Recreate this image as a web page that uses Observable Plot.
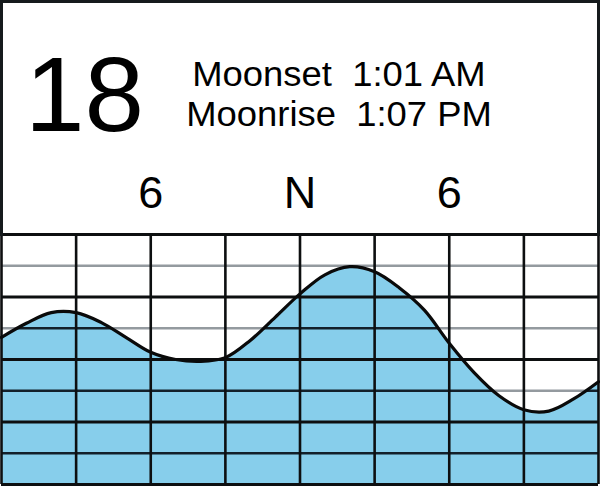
<!DOCTYPE html>
<html>
<head>
<meta charset="utf-8">
<script src="https://cdn.jsdelivr.net/npm/d3@7"></script>
<script src="https://cdn.jsdelivr.net/npm/@observablehq/plot@0.6"></script>
<style>
  html, body { margin: 0; padding: 0; background: #fff; }
  #wrap { position: relative; width: 600px; height: 491px; overflow: hidden; font-family: "Liberation Sans", Arial, Helvetica, sans-serif; color: #000; }
  #wrap svg { display: block; }
  #box { position: absolute; left: 0; top: 0; width: 600px; height: 236px; box-sizing: border-box;
         border: 3px solid #151a1c; border-bottom: none; pointer-events: none; }
  #day { position: absolute; left: 25px; top: 41px; font-size: 106px; line-height: 1; transform: scaleX(1.01); transform-origin: 0 0; }
  #moon { position: absolute; left: 139px; width: 400px; top: 54px; font-size: 35px; line-height: 40px; text-align: center;
          white-space: pre; transform: scaleX(1.04); transform-origin: 200px 0; }
</style>
</head>
<body>
<div id="wrap"></div>
<script>
// ---- data ----
const dayNumber = "18";
const moonLines = ["Moonset  1:01 AM", "Moonrise  1:07 PM"];
const hourTicks = [6, 12, 18];
const hourLabels = ["6", "N", "6"];
const gridHours = [0, 3, 6, 9, 12, 15, 18, 21, 24];
const majorLevels = [0, 2, 4, 6, 8];
const minorLevels = [1, 3, 5, 7];
const hours = [0, 1, 2, 3, 4, 5, 6, 7, 8, 9, 10, 11, 12, 13, 14, 15, 16, 17, 18, 19, 20, 21, 22, 23, 24];
const tide  = [4.71, 5.16, 5.50, 5.50, 5.19, 4.71, 4.23, 4.00, 3.94, 4.06, 4.61, 5.35, 6.10, 6.71, 6.97, 6.81, 6.29, 5.58, 4.52, 3.58, 2.84, 2.39, 2.35, 2.74, 3.29];

const data = hours.map((h, i) => ({hour: h, level: tide[i]}));
const yTop = 8;

const chart = Plot.plot({
  width: 600,
  height: 491,
  marginTop: 234,
  marginBottom: 7,
  marginLeft: 1,
  marginRight: 2,
  style: {fontFamily: '"Liberation Sans", Arial, Helvetica, sans-serif', background: "#fff", color: "#000"},
  x: {domain: [0, 24]},
  y: {domain: [0, yTop], axis: null},
  marks: [
    Plot.areaY(data, {x: "hour", y1: 0, y2: "level", fill: "#87CEEB", curve: "catmull-rom"}),
    Plot.ruleY(minorLevels, {stroke: "#13202a", strokeWidth: 2.5}),
    Plot.areaY(data, {x: "hour", y1: "level", y2: yTop, fill: "#fff", fillOpacity: 0.55, curve: "catmull-rom"}),
    Plot.ruleY(majorLevels, {stroke: "#0d0f10", strokeWidth: 3.2}),
    Plot.ruleX(gridHours, {stroke: "#0d0f10", strokeWidth: 2.6}),
    Plot.lineY(data, {x: "hour", y: "level", stroke: "#0a0a0a", strokeWidth: 3.2, curve: "catmull-rom"}),
    Plot.axisX(hourTicks, {
      anchor: "top", tickSize: 0, tickPadding: 27, fontSize: 45,
      tickFormat: (d) => hourLabels[hourTicks.indexOf(d)], label: null
    })
  ]
});

const wrap = document.getElementById("wrap");
wrap.appendChild(chart);
const box = document.createElement("div"); box.id = "box"; wrap.appendChild(box);
const day = document.createElement("div"); day.id = "day"; day.textContent = dayNumber; wrap.appendChild(day);
const moon = document.createElement("div"); moon.id = "moon"; moon.textContent = moonLines.join("\n"); wrap.appendChild(moon);
</script>
</body>
</html>
